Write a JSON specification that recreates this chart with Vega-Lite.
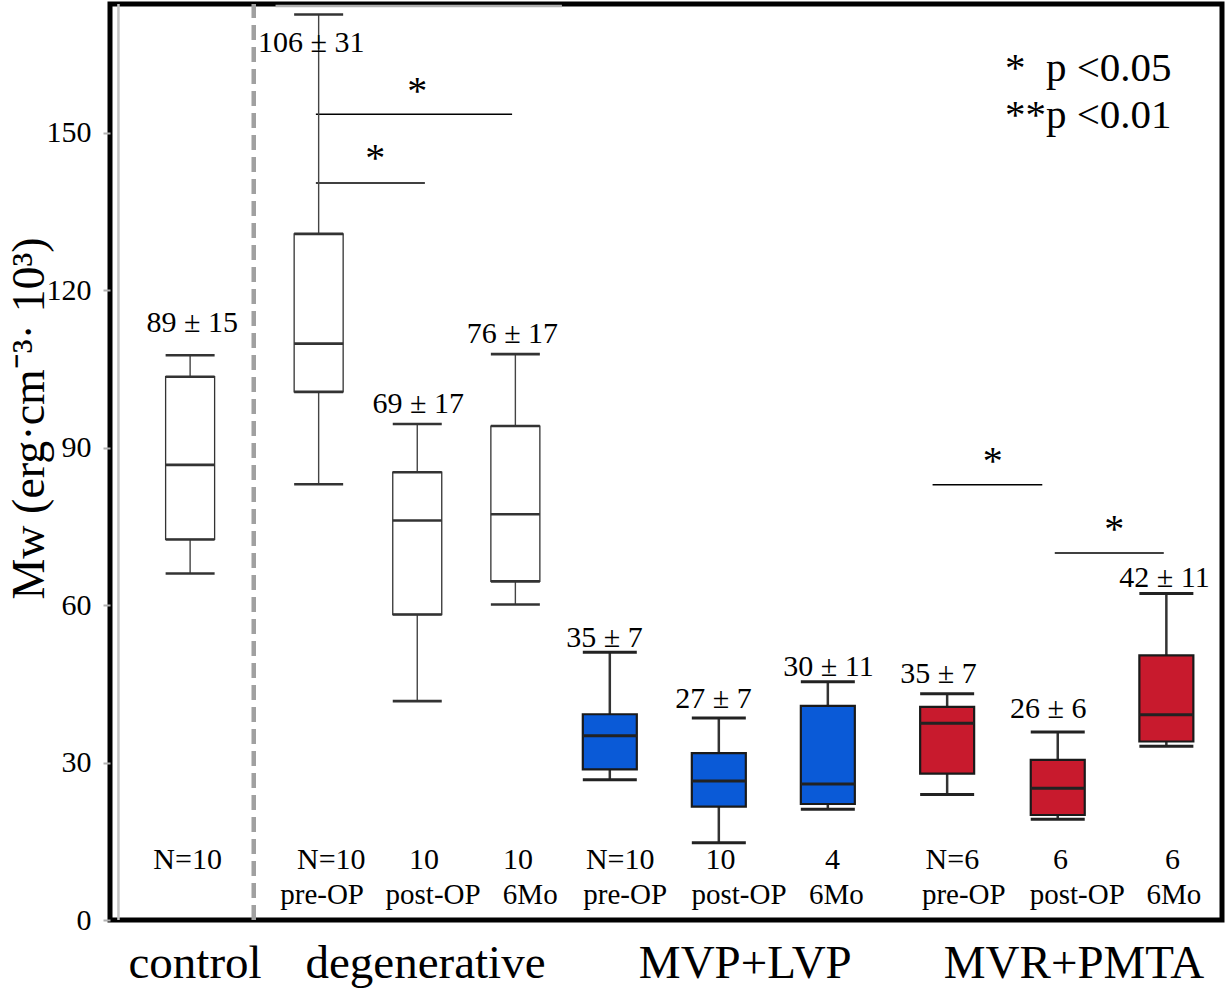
{
  "$schema": "https://vega.github.io/schema/vega-lite/v6.json",
  "width": 1112,
  "height": 916,
  "autosize": {"type": "none"},
  "padding": {"left": 110, "top": 4, "right": 7, "bottom": 81},
  "background": "white",
  "view": {"stroke": "black", "strokeWidth": 5},
  "config": {
    "axisY": {
      "labelFont": "Liberation Serif", "labelFontSize": 30, "labelColor": "#000",
      "tickColor": "#b0b0b0", "tickSize": 7, "tickWidth": 2, "labelPadding": 12,
      "domain": false, "grid": false,
      "titleFont": "Liberation Serif", "titleFontSize": 46, "titleFontWeight": "normal",
      "titleColor": "#000", "titleX": -67, "titleY": 414, "titleAngle": 270,
      "titleAlign": "center", "titleBaseline": "alphabetic"
    }
  },
  "datasets": {
    "boxes": [
      {"g": "control", "cohort": "control", "pos": 0.758, "lo": 66.0, "q1": 72.5, "med": 86.7, "q3": 103.5, "hi": 107.6},
      {"g": "degenerative pre-OP", "cohort": "degenerative", "pos": 2.055, "lo": 83.0, "q1": 100.6, "med": 109.8, "q3": 130.7, "hi": 172.5},
      {"g": "degenerative post-OP", "cohort": "degenerative", "pos": 3.05, "lo": 41.7, "q1": 58.2, "med": 76.1, "q3": 85.3, "hi": 94.5},
      {"g": "degenerative 6Mo", "cohort": "degenerative", "pos": 4.04, "lo": 60.1, "q1": 64.5, "med": 77.3, "q3": 94.1, "hi": 107.8},
      {"g": "MVP+LVP pre-OP", "cohort": "MVP+LVP", "pos": 4.993, "lo": 26.7, "q1": 28.7, "med": 35.1, "q3": 39.2, "hi": 51.0},
      {"g": "MVP+LVP post-OP", "cohort": "MVP+LVP", "pos": 6.093, "lo": 14.7, "q1": 21.6, "med": 26.5, "q3": 31.8, "hi": 38.5},
      {"g": "MVP+LVP 6Mo", "cohort": "MVP+LVP", "pos": 7.193, "lo": 21.1, "q1": 22.1, "med": 25.9, "q3": 40.8, "hi": 45.4},
      {"g": "MVR+PMTA pre-OP", "cohort": "MVR+PMTA", "pos": 8.397, "lo": 23.9, "q1": 27.9, "med": 37.5, "q3": 40.6, "hi": 43.1},
      {"g": "MVR+PMTA post-OP", "cohort": "MVR+PMTA", "pos": 9.513, "lo": 19.2, "q1": 20.0, "med": 25.1, "q3": 30.5, "hi": 35.8},
      {"g": "MVR+PMTA 6Mo", "cohort": "MVR+PMTA", "pos": 10.609, "lo": 33.1, "q1": 34.0, "med": 39.1, "q3": 50.4, "hi": 62.2}
    ],
    "means": [
      {"t": "89 ± 15", "pos": 0.78, "val": 112.0},
      {"t": "106 ± 31", "pos": 1.98, "val": 165.4},
      {"t": "69 ± 17", "pos": 3.06, "val": 96.5},
      {"t": "76 ± 17", "pos": 4.01, "val": 109.9},
      {"t": "35 ± 7", "pos": 4.94, "val": 52.1},
      {"t": "27 ± 7", "pos": 6.04, "val": 40.3},
      {"t": "30 ± 11", "pos": 7.2, "val": 46.4},
      {"t": "35 ± 7", "pos": 8.31, "val": 45.1},
      {"t": "26 ± 6", "pos": 9.417, "val": 38.4},
      {"t": "42 ± 11", "pos": 10.59, "val": 63.4}
    ],
    "nlabels": [
      {"t": "N=10", "pos": 0.733, "val": 9.65},
      {"t": "N=10", "pos": 2.183, "val": 9.65},
      {"t": "10", "pos": 3.117, "val": 9.65},
      {"t": "10", "pos": 4.067, "val": 9.65},
      {"t": "N=10", "pos": 5.098, "val": 9.65},
      {"t": "10", "pos": 6.11, "val": 9.65},
      {"t": "4", "pos": 7.24, "val": 9.65},
      {"t": "N=6", "pos": 8.45, "val": 9.65},
      {"t": "6", "pos": 9.54, "val": 9.65},
      {"t": "6", "pos": 10.67, "val": 9.65}
    ],
    "phases": [
      {"t": "pre-OP", "pos": 2.09, "val": 3.05},
      {"t": "post-OP", "pos": 3.21, "val": 3.05},
      {"t": "6Mo", "pos": 4.19, "val": 3.05},
      {"t": "pre-OP", "pos": 5.148, "val": 3.05},
      {"t": "post-OP", "pos": 6.297, "val": 3.05},
      {"t": "6Mo", "pos": 7.28, "val": 3.05},
      {"t": "pre-OP", "pos": 8.565, "val": 3.0},
      {"t": "post-OP", "pos": 9.71, "val": 3.05},
      {"t": "6Mo", "pos": 10.684, "val": 3.05}
    ],
    "groups": [
      {"t": "control", "pos": 0.808, "val": -11.1},
      {"t": "degenerative", "pos": 3.133, "val": -11.1},
      {"t": "MVP+LVP", "pos": 6.36, "val": -11.1},
      {"t": "MVR+PMTA", "pos": 9.677, "val": -11.1}
    ],
    "stars": [
      {"t": "*", "pos": 3.05, "val": 155.5},
      {"t": "*", "pos": 2.627, "val": 142.7},
      {"t": "*", "pos": 8.857, "val": 85.0},
      {"t": "*", "pos": 10.083, "val": 72.0}
    ],
    "legend": [
      {"t": "*\u00a0\u00a0p <0.05", "pos": 8.98, "val": 159.8},
      {"t": "**p <0.01", "pos": 8.98, "val": 150.8}
    ],
    "sig": [
      {"x1": 2.027, "x2": 4.007, "y": 153.5},
      {"x1": 2.027, "x2": 3.127, "y": 140.4},
      {"x1": 8.25, "x2": 9.357, "y": 82.9},
      {"x1": 9.483, "x2": 10.583, "y": 69.9}
    ],
    "topline": [
      {"x1": 1.62, "x2": 4.51, "y": 174.1}
    ],
    "divider": [
      {"pos": 1.4, "lo": 0, "hi": 174.5}
    ],
    "innerleft": [
      {"pos": 0.035, "lo": 0, "hi": 174.5}
    ]
  },
  "layer": [
    {
      "data": {"name": "divider"},
      "mark": {"type": "rule", "color": "#a0a0a0", "strokeWidth": 4.5, "strokeDash": [15, 7]},
      "encoding": {
        "x": {"field": "pos", "type": "quantitative", "scale": {"domain": [0, 11.12], "nice": false, "zero": false}, "axis": null},
        "y": {"field": "lo", "type": "quantitative", "scale": {"domain": [0, 174.5], "nice": false, "zero": false},
              "axis": {"values": [0, 30, 60, 90, 120, 150]}, "title": "Mw (erg·cm⁻³· 10³)"},
        "y2": {"field": "hi"}
      }
    },
    {
      "data": {"name": "innerleft"},
      "mark": {"type": "rule", "color": "#c4c4c4", "strokeWidth": 2.5},
      "encoding": {
        "x": {"field": "pos", "type": "quantitative", "axis": null},
        "y": {"field": "lo", "type": "quantitative", "axis": {"values": [0, 30, 60, 90, 120, 150]}, "title": "Mw (erg·cm⁻³· 10³)"},
        "y2": {"field": "hi"}
      }
    },
    {
      "data": {"name": "topline"},
      "mark": {"type": "rule", "color": "#b0b0b0", "strokeWidth": 2.5},
      "encoding": {
        "x": {"field": "x1", "type": "quantitative", "axis": null},
        "x2": {"field": "x2"},
        "y": {"field": "y", "type": "quantitative", "axis": {"values": [0, 30, 60, 90, 120, 150]}, "title": "Mw (erg·cm⁻³· 10³)"}
      }
    },
    {
      "data": {"name": "sig"},
      "mark": {"type": "rule", "color": "#000", "strokeWidth": 1.5},
      "encoding": {
        "x": {"field": "x1", "type": "quantitative", "axis": null},
        "x2": {"field": "x2"},
        "y": {"field": "y", "type": "quantitative", "axis": {"values": [0, 30, 60, 90, 120, 150]}, "title": "Mw (erg·cm⁻³· 10³)"}
      }
    },
    {
      "data": {"name": "boxes"},
      "transform": [{"filter": "datum.cohort === 'control' || datum.cohort === 'degenerative'"}],
      "mark": {"type": "rule", "color": "#444", "strokeWidth": 1.4},
      "encoding": {
        "x": {"field": "pos", "type": "quantitative", "axis": null},
        "y": {"field": "lo", "type": "quantitative", "axis": {"values": [0, 30, 60, 90, 120, 150]}, "title": "Mw (erg·cm⁻³· 10³)"},
        "y2": {"field": "hi"}
      }
    },
    {
      "data": {"name": "boxes"},
      "transform": [{"filter": "datum.cohort === 'MVP+LVP' || datum.cohort === 'MVR+PMTA'"}],
      "mark": {"type": "rule", "color": "#333", "strokeWidth": 2.5},
      "encoding": {
        "x": {"field": "pos", "type": "quantitative", "axis": null},
        "y": {"field": "lo", "type": "quantitative", "axis": {"values": [0, 30, 60, 90, 120, 150]}, "title": "Mw (erg·cm⁻³· 10³)"},
        "y2": {"field": "hi"}
      }
    },
    {
      "data": {"name": "boxes"},
      "transform": [{"filter": "datum.cohort === 'control' || datum.cohort === 'degenerative'"}],
      "mark": {"type": "bar", "size": 49, "fill": "white", "stroke": "#333", "strokeWidth": 1.3},
      "encoding": {
        "x": {"field": "pos", "type": "quantitative", "axis": null},
        "y": {"field": "q1", "type": "quantitative", "axis": {"values": [0, 30, 60, 90, 120, 150]}, "title": "Mw (erg·cm⁻³· 10³)"},
        "y2": {"field": "q3"}
      }
    },
    {
      "data": {"name": "boxes"},
      "transform": [{"filter": "datum.cohort === 'MVP+LVP' || datum.cohort === 'MVR+PMTA'"}],
      "mark": {"type": "bar", "size": 54, "stroke": "#1a1a1a", "strokeWidth": 2.2},
      "encoding": {
        "x": {"field": "pos", "type": "quantitative", "axis": null},
        "y": {"field": "q1", "type": "quantitative", "axis": {"values": [0, 30, 60, 90, 120, 150]}, "title": "Mw (erg·cm⁻³· 10³)"},
        "y2": {"field": "q3"},
        "fill": {"field": "cohort", "type": "nominal",
                 "scale": {"domain": ["MVP+LVP", "MVR+PMTA"], "range": ["#0A5AD7", "#C81A2D"]}, "legend": null}
      }
    },
    {
      "data": {"name": "boxes"},
      "transform": [
        {"filter": "datum.cohort === 'control' || datum.cohort === 'degenerative'"},
        {"fold": ["q1", "med", "q3", "lo", "hi"], "as": ["stat", "v"]}
      ],
      "mark": {"type": "tick", "orient": "horizontal", "size": 49, "thickness": 2.6, "color": "#333", "opacity": 1},
      "encoding": {
        "x": {"field": "pos", "type": "quantitative", "axis": null},
        "y": {"field": "v", "type": "quantitative", "axis": {"values": [0, 30, 60, 90, 120, 150]}, "title": "Mw (erg·cm⁻³· 10³)"}
      }
    },
    {
      "data": {"name": "boxes"},
      "transform": [
        {"filter": "datum.cohort === 'MVP+LVP' || datum.cohort === 'MVR+PMTA'"},
        {"fold": ["med", "lo", "hi"], "as": ["stat", "v"]}
      ],
      "mark": {"type": "tick", "orient": "horizontal", "size": 54, "thickness": 3, "color": "#222", "opacity": 1},
      "encoding": {
        "x": {"field": "pos", "type": "quantitative", "axis": null},
        "y": {"field": "v", "type": "quantitative", "axis": {"values": [0, 30, 60, 90, 120, 150]}, "title": "Mw (erg·cm⁻³· 10³)"}
      }
    },
    {
      "data": {"name": "means"},
      "mark": {"type": "text", "font": "Liberation Serif", "fontSize": 30, "color": "#000", "align": "center", "baseline": "alphabetic"},
      "encoding": {
        "x": {"field": "pos", "type": "quantitative", "axis": null},
        "y": {"field": "val", "type": "quantitative", "axis": {"values": [0, 30, 60, 90, 120, 150]}, "title": "Mw (erg·cm⁻³· 10³)"},
        "text": {"field": "t"}
      }
    },
    {
      "data": {"name": "nlabels"},
      "mark": {"type": "text", "font": "Liberation Serif", "fontSize": 30, "color": "#000", "align": "center", "baseline": "alphabetic"},
      "encoding": {
        "x": {"field": "pos", "type": "quantitative", "axis": null},
        "y": {"field": "val", "type": "quantitative", "axis": {"values": [0, 30, 60, 90, 120, 150]}, "title": "Mw (erg·cm⁻³· 10³)"},
        "text": {"field": "t"}
      }
    },
    {
      "data": {"name": "phases"},
      "mark": {"type": "text", "font": "Liberation Serif", "fontSize": 29, "color": "#000", "align": "center", "baseline": "alphabetic"},
      "encoding": {
        "x": {"field": "pos", "type": "quantitative", "axis": null},
        "y": {"field": "val", "type": "quantitative", "axis": {"values": [0, 30, 60, 90, 120, 150]}, "title": "Mw (erg·cm⁻³· 10³)"},
        "text": {"field": "t"}
      }
    },
    {
      "data": {"name": "groups"},
      "mark": {"type": "text", "font": "Liberation Serif", "fontSize": 47, "color": "#000", "align": "center", "baseline": "alphabetic"},
      "encoding": {
        "x": {"field": "pos", "type": "quantitative", "axis": null},
        "y": {"field": "val", "type": "quantitative", "axis": {"values": [0, 30, 60, 90, 120, 150]}, "title": "Mw (erg·cm⁻³· 10³)"},
        "text": {"field": "t"}
      }
    },
    {
      "data": {"name": "stars"},
      "mark": {"type": "text", "font": "Liberation Serif", "fontSize": 40, "color": "#000", "align": "center", "baseline": "alphabetic"},
      "encoding": {
        "x": {"field": "pos", "type": "quantitative", "axis": null},
        "y": {"field": "val", "type": "quantitative", "axis": {"values": [0, 30, 60, 90, 120, 150]}, "title": "Mw (erg·cm⁻³· 10³)"},
        "text": {"field": "t"}
      }
    },
    {
      "data": {"name": "legend"},
      "mark": {"type": "text", "font": "Liberation Serif", "fontSize": 41, "color": "#000", "align": "left", "baseline": "alphabetic"},
      "encoding": {
        "x": {"field": "pos", "type": "quantitative", "axis": null},
        "y": {"field": "val", "type": "quantitative", "axis": {"values": [0, 30, 60, 90, 120, 150]}, "title": "Mw (erg·cm⁻³· 10³)"},
        "text": {"field": "t"}
      }
    }
  ]
}
